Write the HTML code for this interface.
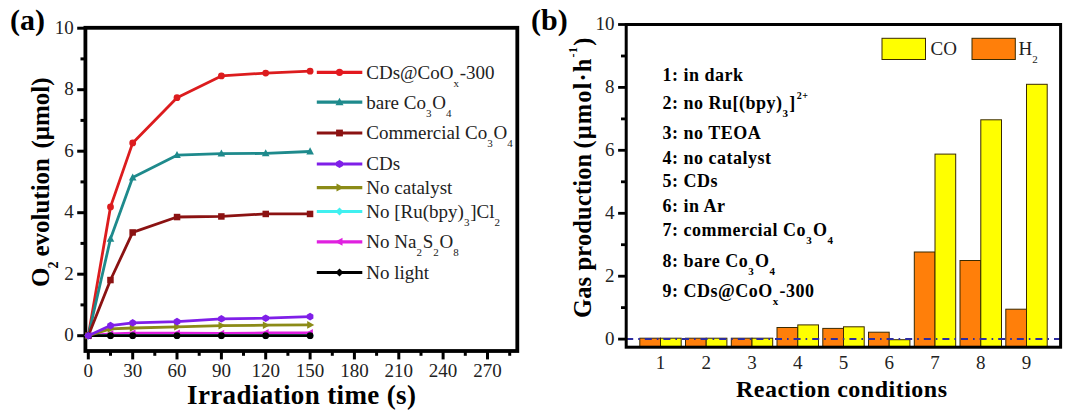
<!DOCTYPE html>
<html><head><meta charset="utf-8"><style>
html,body{margin:0;padding:0;background:#fff;width:1080px;height:413px;overflow:hidden}
svg{display:block}
text{font-family:"Liberation Serif", serif;fill:#222}
.b{font-weight:bold;fill:#000}
</style></head><body>
<svg width="1080" height="413" viewBox="0 0 1080 413">

<text class="b" x="10" y="30" font-size="30">(a)</text>
<rect x="85.4" y="27.8" width="431.9" height="323.2" fill="none" stroke="#000" stroke-width="3.8"/>
<line x1="85.4" y1="335.7" x2="77.2" y2="335.7" stroke="#000" stroke-width="3"/>
<text x="73.8" y="341.1" font-size="19" text-anchor="end">0</text>
<line x1="85.4" y1="304.9" x2="80.5" y2="304.9" stroke="#000" stroke-width="3"/>
<line x1="85.4" y1="274.2" x2="77.2" y2="274.2" stroke="#000" stroke-width="3"/>
<text x="73.8" y="279.6" font-size="19" text-anchor="end">2</text>
<line x1="85.4" y1="243.4" x2="80.5" y2="243.4" stroke="#000" stroke-width="3"/>
<line x1="85.4" y1="212.7" x2="77.2" y2="212.7" stroke="#000" stroke-width="3"/>
<text x="73.8" y="218.1" font-size="19" text-anchor="end">4</text>
<line x1="85.4" y1="181.9" x2="80.5" y2="181.9" stroke="#000" stroke-width="3"/>
<line x1="85.4" y1="151.2" x2="77.2" y2="151.2" stroke="#000" stroke-width="3"/>
<text x="73.8" y="156.6" font-size="19" text-anchor="end">6</text>
<line x1="85.4" y1="120.4" x2="80.5" y2="120.4" stroke="#000" stroke-width="3"/>
<line x1="85.4" y1="89.7" x2="77.2" y2="89.7" stroke="#000" stroke-width="3"/>
<text x="73.8" y="95.1" font-size="19" text-anchor="end">8</text>
<line x1="85.4" y1="58.9" x2="80.5" y2="58.9" stroke="#000" stroke-width="3"/>
<line x1="85.4" y1="28.2" x2="77.2" y2="28.2" stroke="#000" stroke-width="3"/>
<text x="73.8" y="33.6" font-size="19" text-anchor="end">10</text>
<line x1="88.3" y1="351.0" x2="88.3" y2="359.4" stroke="#000" stroke-width="3"/>
<text x="88.3" y="376.8" font-size="19" text-anchor="middle">0</text>
<line x1="110.5" y1="351.0" x2="110.5" y2="355.8" stroke="#000" stroke-width="3"/>
<line x1="132.7" y1="351.0" x2="132.7" y2="359.4" stroke="#000" stroke-width="3"/>
<text x="132.7" y="376.8" font-size="19" text-anchor="middle">30</text>
<line x1="154.8" y1="351.0" x2="154.8" y2="355.8" stroke="#000" stroke-width="3"/>
<line x1="177.0" y1="351.0" x2="177.0" y2="359.4" stroke="#000" stroke-width="3"/>
<text x="177.0" y="376.8" font-size="19" text-anchor="middle">60</text>
<line x1="199.2" y1="351.0" x2="199.2" y2="355.8" stroke="#000" stroke-width="3"/>
<line x1="221.4" y1="351.0" x2="221.4" y2="359.4" stroke="#000" stroke-width="3"/>
<text x="221.4" y="376.8" font-size="19" text-anchor="middle">90</text>
<line x1="243.5" y1="351.0" x2="243.5" y2="355.8" stroke="#000" stroke-width="3"/>
<line x1="265.7" y1="351.0" x2="265.7" y2="359.4" stroke="#000" stroke-width="3"/>
<text x="265.7" y="376.8" font-size="19" text-anchor="middle">120</text>
<line x1="287.9" y1="351.0" x2="287.9" y2="355.8" stroke="#000" stroke-width="3"/>
<line x1="310.1" y1="351.0" x2="310.1" y2="359.4" stroke="#000" stroke-width="3"/>
<text x="310.1" y="376.8" font-size="19" text-anchor="middle">150</text>
<line x1="332.3" y1="351.0" x2="332.3" y2="355.8" stroke="#000" stroke-width="3"/>
<line x1="354.4" y1="351.0" x2="354.4" y2="359.4" stroke="#000" stroke-width="3"/>
<text x="354.4" y="376.8" font-size="19" text-anchor="middle">180</text>
<line x1="376.6" y1="351.0" x2="376.6" y2="355.8" stroke="#000" stroke-width="3"/>
<line x1="398.8" y1="351.0" x2="398.8" y2="359.4" stroke="#000" stroke-width="3"/>
<text x="398.8" y="376.8" font-size="19" text-anchor="middle">210</text>
<line x1="421.0" y1="351.0" x2="421.0" y2="355.8" stroke="#000" stroke-width="3"/>
<line x1="443.1" y1="351.0" x2="443.1" y2="359.4" stroke="#000" stroke-width="3"/>
<text x="443.1" y="376.8" font-size="19" text-anchor="middle">240</text>
<line x1="465.3" y1="351.0" x2="465.3" y2="355.8" stroke="#000" stroke-width="3"/>
<line x1="487.5" y1="351.0" x2="487.5" y2="359.4" stroke="#000" stroke-width="3"/>
<text x="487.5" y="376.8" font-size="19" text-anchor="middle">270</text>
<line x1="509.7" y1="351.0" x2="509.7" y2="355.8" stroke="#000" stroke-width="3"/>
<text class="b" x="187" y="404" font-size="27" letter-spacing="0.37">Irradiation time (s)</text>
<text class="b" font-size="25" transform="translate(48.8,287) rotate(-90)"><tspan x="0">O</tspan><tspan font-size="14" dy="9" x="18.5">2</tspan><tspan dy="-9" x="30.4">evolution</tspan><tspan x="138.5">(μmol)</tspan></text>
<polyline points="88.3,335.7 110.5,206.9 132.7,142.9 177.0,97.7 221.4,75.9 265.7,73.1 310.1,71.2" fill="none" stroke="#dc1c1e" stroke-width="2.8" stroke-linejoin="round"/>
<circle cx="88.3" cy="335.7" r="3.4" fill="#dc1c1e"/>
<circle cx="110.5" cy="206.9" r="3.4" fill="#dc1c1e"/>
<circle cx="132.7" cy="142.9" r="3.4" fill="#dc1c1e"/>
<circle cx="177.0" cy="97.7" r="3.4" fill="#dc1c1e"/>
<circle cx="221.4" cy="75.9" r="3.4" fill="#dc1c1e"/>
<circle cx="265.7" cy="73.1" r="3.4" fill="#dc1c1e"/>
<circle cx="310.1" cy="71.2" r="3.4" fill="#dc1c1e"/>
<polyline points="88.3,335.7 110.5,238.8 132.7,177.6 177.0,155.2 221.4,153.7 265.7,153.4 310.1,151.5" fill="none" stroke="#1e8a8c" stroke-width="2.8" stroke-linejoin="round"/>
<polygon points="88.3,331.5 92.1,338.6 84.5,338.6" fill="#1e8a8c"/>
<polygon points="110.5,234.7 114.3,241.7 106.7,241.7" fill="#1e8a8c"/>
<polygon points="132.7,173.5 136.5,180.5 128.9,180.5" fill="#1e8a8c"/>
<polygon points="177.0,151.0 180.8,158.0 173.2,158.0" fill="#1e8a8c"/>
<polygon points="221.4,149.5 225.2,156.5 217.6,156.5" fill="#1e8a8c"/>
<polygon points="265.7,149.2 269.5,156.2 261.9,156.2" fill="#1e8a8c"/>
<polygon points="310.1,147.3 313.9,154.4 306.3,154.4" fill="#1e8a8c"/>
<polyline points="88.3,335.7 110.5,280.0 132.7,232.4 177.0,217.0 221.4,216.4 265.7,213.9 310.1,213.9" fill="none" stroke="#8b1212" stroke-width="2.8" stroke-linejoin="round"/>
<rect x="85.1" y="332.5" width="6.5" height="6.5" fill="#8b1212"/>
<rect x="107.2" y="276.8" width="6.5" height="6.5" fill="#8b1212"/>
<rect x="129.4" y="229.2" width="6.5" height="6.5" fill="#8b1212"/>
<rect x="173.8" y="213.8" width="6.5" height="6.5" fill="#8b1212"/>
<rect x="218.1" y="213.2" width="6.5" height="6.5" fill="#8b1212"/>
<rect x="262.5" y="210.7" width="6.5" height="6.5" fill="#8b1212"/>
<rect x="306.8" y="210.7" width="6.5" height="6.5" fill="#8b1212"/>
<polyline points="88.3,335.7 110.5,333.9 132.7,333.2 177.0,333.2 221.4,333.5 265.7,332.9 310.1,332.9" fill="none" stroke="#e020e0" stroke-width="2.8" stroke-linejoin="round"/>
<polygon points="84.1,335.7 91.1,331.9 91.1,339.5" fill="#e020e0"/>
<polygon points="106.3,333.9 113.3,330.1 113.3,337.7" fill="#e020e0"/>
<polygon points="128.5,333.2 135.5,329.4 135.5,337.0" fill="#e020e0"/>
<polygon points="172.8,333.2 179.9,329.4 179.9,337.0" fill="#e020e0"/>
<polygon points="217.2,333.5 224.2,329.7 224.2,337.3" fill="#e020e0"/>
<polygon points="261.5,332.9 268.6,329.1 268.6,336.7" fill="#e020e0"/>
<polygon points="305.9,332.9 312.9,329.1 312.9,336.7" fill="#e020e0"/>
<polyline points="88.3,335.7 110.5,335.7 132.7,335.7 177.0,335.7 221.4,335.7 265.7,335.7 310.1,335.7" fill="none" stroke="#40f0f0" stroke-width="2.8" stroke-linejoin="round"/>
<polygon points="88.3,331.9 92.1,335.7 88.3,339.5 84.5,335.7" fill="#40f0f0"/>
<polygon points="110.5,331.9 114.3,335.7 110.5,339.5 106.7,335.7" fill="#40f0f0"/>
<polygon points="132.7,331.9 136.5,335.7 132.7,339.5 128.9,335.7" fill="#40f0f0"/>
<polygon points="177.0,331.9 180.8,335.7 177.0,339.5 173.2,335.7" fill="#40f0f0"/>
<polygon points="221.4,331.9 225.2,335.7 221.4,339.5 217.6,335.7" fill="#40f0f0"/>
<polygon points="265.7,331.9 269.5,335.7 265.7,339.5 261.9,335.7" fill="#40f0f0"/>
<polygon points="310.1,331.9 313.9,335.7 310.1,339.5 306.3,335.7" fill="#40f0f0"/>
<polyline points="88.3,335.7 110.5,335.7 132.7,335.7 177.0,335.7 221.4,335.7 265.7,335.7 310.1,335.7" fill="none" stroke="#000000" stroke-width="2.8" stroke-linejoin="round"/>
<circle cx="88.3" cy="335.7" r="3.4" fill="#000000"/>
<circle cx="110.5" cy="335.7" r="3.4" fill="#000000"/>
<circle cx="132.7" cy="335.7" r="3.4" fill="#000000"/>
<circle cx="177.0" cy="335.7" r="3.4" fill="#000000"/>
<circle cx="221.4" cy="335.7" r="3.4" fill="#000000"/>
<circle cx="265.7" cy="335.7" r="3.4" fill="#000000"/>
<circle cx="310.1" cy="335.7" r="3.4" fill="#000000"/>
<polyline points="88.3,335.7 110.5,328.9 132.7,328.0 177.0,326.8 221.4,325.6 265.7,325.2 310.1,324.9" fill="none" stroke="#8b8b17" stroke-width="2.8" stroke-linejoin="round"/>
<polygon points="92.5,335.7 85.5,331.9 85.5,339.5" fill="#8b8b17"/>
<polygon points="114.7,328.9 107.6,325.1 107.6,332.7" fill="#8b8b17"/>
<polygon points="136.8,328.0 129.8,324.2 129.8,331.8" fill="#8b8b17"/>
<polygon points="181.2,326.8 174.2,323.0 174.2,330.6" fill="#8b8b17"/>
<polygon points="225.5,325.6 218.5,321.8 218.5,329.4" fill="#8b8b17"/>
<polygon points="269.9,325.2 262.9,321.4 262.9,329.0" fill="#8b8b17"/>
<polygon points="314.3,324.9 307.2,321.1 307.2,328.7" fill="#8b8b17"/>
<polyline points="88.3,335.7 110.5,325.6 132.7,322.8 177.0,321.6 221.4,318.8 265.7,318.2 310.1,316.6" fill="none" stroke="#7f1fe8" stroke-width="2.8" stroke-linejoin="round"/>
<polygon points="91.6,337.6 88.3,339.5 85.0,337.6 85.0,333.8 88.3,331.9 91.6,333.8" fill="#7f1fe8"/>
<polygon points="113.8,327.5 110.5,329.4 107.2,327.5 107.2,323.7 110.5,321.8 113.8,323.7" fill="#7f1fe8"/>
<polygon points="135.9,324.7 132.7,326.6 129.4,324.7 129.4,320.9 132.7,319.0 135.9,320.9" fill="#7f1fe8"/>
<polygon points="180.3,323.5 177.0,325.4 173.7,323.5 173.7,319.7 177.0,317.8 180.3,319.7" fill="#7f1fe8"/>
<polygon points="224.7,320.7 221.4,322.6 218.1,320.7 218.1,316.9 221.4,315.0 224.7,316.9" fill="#7f1fe8"/>
<polygon points="269.0,320.1 265.7,322.0 262.4,320.1 262.4,316.3 265.7,314.4 269.0,316.3" fill="#7f1fe8"/>
<polygon points="313.4,318.5 310.1,320.4 306.8,318.5 306.8,314.7 310.1,312.8 313.4,314.7" fill="#7f1fe8"/>
<line x1="316.8" y1="72.3" x2="362.3" y2="72.3" stroke="#e3191f" stroke-width="3.2"/>
<circle cx="339.5" cy="72.3" r="3.6" fill="#e3191f"/>
<text x="366.3" y="78.6" font-size="19">CDs@CoO<tspan font-size="11" dy="8">x</tspan><tspan dy="-8" dx="0.8">-300</tspan></text>
<line x1="316.8" y1="102.2" x2="362.3" y2="102.2" stroke="#1e8a8c" stroke-width="3.2"/>
<polygon points="339.5,97.8 343.5,105.2 335.5,105.2" fill="#1e8a8c"/>
<text x="366.3" y="108.5" font-size="19">bare Co<tspan font-size="11" dy="8">3</tspan><tspan dy="-8" dx="0.8">O</tspan><tspan font-size="11" dy="8">4</tspan></text>
<line x1="316.8" y1="133.0" x2="362.3" y2="133.0" stroke="#8b1212" stroke-width="3.2"/>
<rect x="336.1" y="129.6" width="6.8" height="6.8" fill="#8b1212"/>
<text x="366.3" y="139.3" font-size="19">Commercial Co<tspan font-size="11" dy="8">3</tspan><tspan dy="-8" dx="0.8">O</tspan><tspan font-size="11" dy="8">4</tspan></text>
<line x1="316.8" y1="164.0" x2="362.3" y2="164.0" stroke="#7f1fe8" stroke-width="3.2"/>
<polygon points="343.0,166.0 339.5,168.0 336.0,166.0 336.0,162.0 339.5,160.0 343.0,162.0" fill="#7f1fe8"/>
<text x="366.3" y="170.3" font-size="19">CDs</text>
<line x1="316.8" y1="187.6" x2="362.3" y2="187.6" stroke="#8b8b17" stroke-width="3.2"/>
<polygon points="343.9,187.6 336.5,183.6 336.5,191.6" fill="#8b8b17"/>
<text x="366.3" y="193.9" font-size="19">No catalyst</text>
<line x1="316.8" y1="211.5" x2="362.3" y2="211.5" stroke="#40f0f0" stroke-width="3.2"/>
<polygon points="339.5,207.5 343.5,211.5 339.5,215.5 335.5,211.5" fill="#40f0f0"/>
<text x="366.3" y="217.8" font-size="19">No [Ru(bpy)<tspan font-size="11" dy="8">3</tspan><tspan dy="-8" dx="0.8">]Cl</tspan><tspan font-size="11" dy="8">2</tspan></text>
<line x1="316.8" y1="241.8" x2="362.3" y2="241.8" stroke="#e020e0" stroke-width="3.2"/>
<polygon points="335.1,241.8 342.5,237.8 342.5,245.8" fill="#e020e0"/>
<text x="366.3" y="248.1" font-size="19">No Na<tspan font-size="11" dy="8">2</tspan><tspan dy="-8" dx="0.8">S</tspan><tspan font-size="11" dy="8">2</tspan><tspan dy="-8" dx="0.8">O</tspan><tspan font-size="11" dy="8">8</tspan></text>
<line x1="316.8" y1="272.5" x2="362.3" y2="272.5" stroke="#000000" stroke-width="3.2"/>
<polygon points="339.5,268.5 343.5,272.5 339.5,276.5 335.5,272.5" fill="#000000"/>
<text x="366.3" y="278.8" font-size="19">No light</text>
<text class="b" x="531" y="30.3" font-size="30">(b)</text>
<rect x="639.8" y="338.2" width="20.7" height="9.0" fill="#ff7f0a" stroke="#3a2a00" stroke-width="1"/>
<rect x="660.5" y="338.2" width="20.7" height="9.0" fill="#ffff00" stroke="#3a2a00" stroke-width="1"/>
<rect x="685.5" y="338.2" width="20.7" height="9.0" fill="#ff7f0a" stroke="#3a2a00" stroke-width="1"/>
<rect x="706.2" y="338.2" width="20.7" height="9.0" fill="#ffff00" stroke="#3a2a00" stroke-width="1"/>
<rect x="731.3" y="338.2" width="20.7" height="9.0" fill="#ff7f0a" stroke="#3a2a00" stroke-width="1"/>
<rect x="752.0" y="338.2" width="20.7" height="9.0" fill="#ffff00" stroke="#3a2a00" stroke-width="1"/>
<rect x="777.0" y="327.5" width="20.7" height="19.7" fill="#ff7f0a" stroke="#3a2a00" stroke-width="1"/>
<rect x="797.8" y="324.9" width="20.7" height="22.3" fill="#ffff00" stroke="#3a2a00" stroke-width="1"/>
<rect x="822.8" y="328.4" width="20.7" height="18.8" fill="#ff7f0a" stroke="#3a2a00" stroke-width="1"/>
<rect x="843.5" y="326.8" width="20.7" height="20.4" fill="#ffff00" stroke="#3a2a00" stroke-width="1"/>
<rect x="868.5" y="332.2" width="20.7" height="15.0" fill="#ff7f0a" stroke="#3a2a00" stroke-width="1"/>
<rect x="889.2" y="339.7" width="20.7" height="7.5" fill="#ffff00" stroke="#3a2a00" stroke-width="1"/>
<rect x="914.3" y="252.0" width="20.7" height="95.2" fill="#ff7f0a" stroke="#3a2a00" stroke-width="1"/>
<rect x="935.0" y="154.1" width="20.7" height="193.1" fill="#ffff00" stroke="#3a2a00" stroke-width="1"/>
<rect x="960.0" y="260.5" width="20.7" height="86.7" fill="#ff7f0a" stroke="#3a2a00" stroke-width="1"/>
<rect x="980.8" y="119.8" width="20.7" height="227.4" fill="#ffff00" stroke="#3a2a00" stroke-width="1"/>
<rect x="1005.8" y="309.2" width="20.7" height="38.0" fill="#ff7f0a" stroke="#3a2a00" stroke-width="1"/>
<rect x="1026.5" y="84.3" width="20.7" height="262.9" fill="#ffff00" stroke="#3a2a00" stroke-width="1"/>
<line x1="626.2" y1="339.1" x2="1060.6" y2="339.1" stroke="#2c2ca0" stroke-width="2" stroke-dasharray="7,5,1.6,5"/>
<rect x="626.2" y="24.5" width="434.39999999999986" height="322.7" fill="none" stroke="#000" stroke-width="3"/>
<line x1="626.2" y1="339.1" x2="618.1" y2="339.1" stroke="#000" stroke-width="2.8"/>
<text x="614.4" y="344.5" font-size="19" text-anchor="end">0</text>
<line x1="626.2" y1="307.6" x2="621" y2="307.6" stroke="#000" stroke-width="2.8"/>
<line x1="626.2" y1="276.2" x2="618.1" y2="276.2" stroke="#000" stroke-width="2.8"/>
<text x="614.4" y="281.6" font-size="19" text-anchor="end">2</text>
<line x1="626.2" y1="244.7" x2="621" y2="244.7" stroke="#000" stroke-width="2.8"/>
<line x1="626.2" y1="213.3" x2="618.1" y2="213.3" stroke="#000" stroke-width="2.8"/>
<text x="614.4" y="218.7" font-size="19" text-anchor="end">4</text>
<line x1="626.2" y1="181.8" x2="621" y2="181.8" stroke="#000" stroke-width="2.8"/>
<line x1="626.2" y1="150.3" x2="618.1" y2="150.3" stroke="#000" stroke-width="2.8"/>
<text x="614.4" y="155.7" font-size="19" text-anchor="end">6</text>
<line x1="626.2" y1="118.9" x2="621" y2="118.9" stroke="#000" stroke-width="2.8"/>
<line x1="626.2" y1="87.4" x2="618.1" y2="87.4" stroke="#000" stroke-width="2.8"/>
<text x="614.4" y="92.8" font-size="19" text-anchor="end">8</text>
<line x1="626.2" y1="56.0" x2="621" y2="56.0" stroke="#000" stroke-width="2.8"/>
<line x1="626.2" y1="24.5" x2="618.1" y2="24.5" stroke="#000" stroke-width="2.8"/>
<text x="614.4" y="29.9" font-size="19" text-anchor="end">10</text>
<text x="660.5" y="368.5" font-size="19" text-anchor="middle">1</text>
<text x="706.2" y="368.5" font-size="19" text-anchor="middle">2</text>
<text x="752.0" y="368.5" font-size="19" text-anchor="middle">3</text>
<text x="797.8" y="368.5" font-size="19" text-anchor="middle">4</text>
<text x="843.5" y="368.5" font-size="19" text-anchor="middle">5</text>
<text x="889.2" y="368.5" font-size="19" text-anchor="middle">6</text>
<text x="935.0" y="368.5" font-size="19" text-anchor="middle">7</text>
<text x="980.8" y="368.5" font-size="19" text-anchor="middle">8</text>
<text x="1026.5" y="368.5" font-size="19" text-anchor="middle">9</text>
<text class="b" x="736" y="396.5" font-size="24" letter-spacing="0.5">Reaction conditions</text>
<text class="b" font-size="24.5" transform="translate(591,318) rotate(-90)" letter-spacing="0.15">Gas production<tspan x="169.5" letter-spacing="1.1">(μmol·h</tspan><tspan font-size="12" dy="-14" letter-spacing="0.6">-1</tspan><tspan dy="14" dx="0.5">)</tspan></text>
<rect x="882" y="38.3" width="43.5" height="21.2" fill="#ffff00" stroke="#3a2a00" stroke-width="1"/>
<text x="930.5" y="54.7" font-size="19">CO</text>
<rect x="972" y="38.3" width="43.3" height="21.2" fill="#ff7f0a" stroke="#3a2a00" stroke-width="1"/>
<text x="1018.5" y="54.7" font-size="19">H<tspan font-size="11" dy="8">2</tspan></text>
<text class="b" x="662.5" y="80.9" font-size="18" letter-spacing="0.5">1: in dark</text>
<text class="b" x="662.5" y="109.4" font-size="18" letter-spacing="0.5">2: no Ru[(bpy)<tspan font-size="11" dy="8">3</tspan><tspan dy="-8" dx="0.8">]</tspan><tspan font-size="10" dy="-10.6" dx="1">2+</tspan></text>
<text class="b" x="662.5" y="139.4" font-size="18" letter-spacing="0.5">3: no TEOA</text>
<text class="b" x="662.5" y="163.6" font-size="18" letter-spacing="0.5">4: no catalyst</text>
<text class="b" x="662.5" y="187.3" font-size="18" letter-spacing="0.5">5: CDs</text>
<text class="b" x="662.5" y="212.0" font-size="18" letter-spacing="0.5">6: in Ar</text>
<text class="b" x="662.5" y="236.1" font-size="18" letter-spacing="0.5">7: commercial Co<tspan font-size="11" dy="8">3</tspan><tspan dy="-8" dx="0.8">O</tspan><tspan font-size="11" dy="8">4</tspan></text>
<text class="b" x="662.5" y="266.9" font-size="18" letter-spacing="0.5">8: bare Co<tspan font-size="11" dy="8">3</tspan><tspan dy="-8" dx="0.8">O</tspan><tspan font-size="11" dy="8">4</tspan></text>
<text class="b" x="662.5" y="296.7" font-size="18" letter-spacing="0.5">9: CDs@CoO<tspan font-size="11" dy="8">x</tspan><tspan dy="-8" dx="0.8">-300</tspan></text>
</svg></body></html>
